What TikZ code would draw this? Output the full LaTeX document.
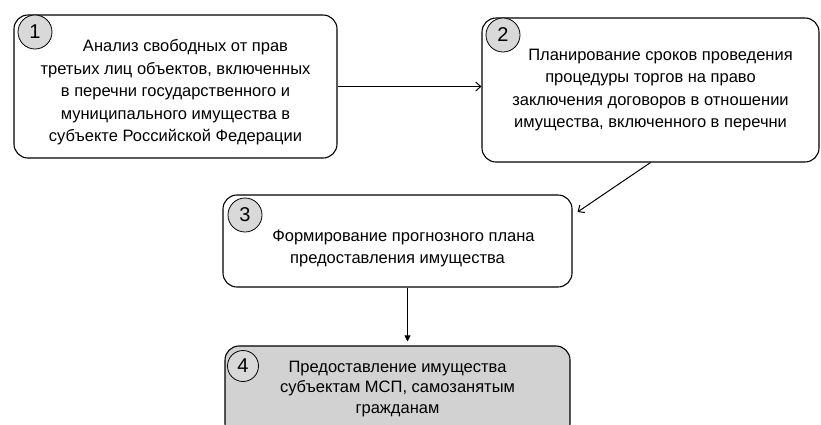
\documentclass[tikz,border=0pt]{standalone}
\usepackage{fontspec}
\setmainfont{Liberation Sans}
\usetikzlibrary{arrows.meta}

\begin{document}
\begin{tikzpicture} [x=1pt, y=-1pt,
	every node/.style = {font=\fontsize{16.5}{22.5}\selectfont},
	stepbox/.style = {draw, line width=1.1pt, rounded corners=14pt, align=center, inner sep=0pt},
	badge/.style = {draw, circle, fill=gray!30, minimum size=34pt, inner sep=0pt, line width=0.8pt, font=\fontsize{20}{20}\selectfont},
	link/.style = {line width=1pt, -{Straight Barb[length=5pt, width=9pt]}}
]
\useasboundingbox (0,0) rectangle (821,424);
\begin{scope}
\clip (0,0) rectangle (821,424);
\node [stepbox, minimum width=323pt, minimum height=143pt] (b1) at (175.5,86.5)
	{\rule{0pt}{24pt}\hspace*{20pt}Анализ свободных от прав\\третьих лиц объектов, включенных\\в перечни государственного и\\муниципального имущества в\\субъекте Российской Федерации};
\node [stepbox, minimum width=337pt, minimum height=144pt] (b2) at (650.5,90)
	{\hspace*{20pt}Планирование сроков проведения\\процедуры торгов на право\\заключения договоров в отношении\\имущества, включенного в перечни};
\node [stepbox, minimum width=349pt, minimum height=92pt, font=\fontsize{16.5}{22}\selectfont] (b3) at (397.5,241)
	{\rule{0pt}{26pt}\hspace*{12pt}Формирование прогнозного плана\\предоставления имущества};
\node [stepbox, fill=gray!35, minimum width=345pt, minimum height=92pt, text depth=10pt, font=\fontsize{16.5}{20.5}\selectfont] (b4) at (397.5,392)
	{Предоставление имущества\\субъектам МСП, самозанятым\\гражданам};
\node [badge] (n1) at (35,32) {1};
\node [badge] (n2) at (503,35) {2};
\node [badge] (n3) at (245,215) {3};
\node [badge, minimum size=31pt] (n4) at (243,366) {4};
\end{scope}
\draw [link] (b1.east) -- (b1.east -| b2.west);
\draw [link] (b2.south) -- ([yshift=29pt, xshift=5pt]b3.east);
\draw [line width=1pt, -{Triangle[length=6pt, width=6pt]}, shorten >=4pt] ([xshift=10pt]b3.south) -- ([xshift=10pt]b3.south |- b4.north);
\end{tikzpicture}
\end{document}
